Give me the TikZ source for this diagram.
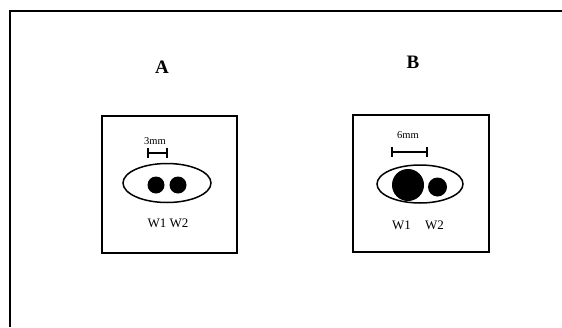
\documentclass[tikz,border=0pt]{standalone}
\usepackage{fontspec}
\setmainfont{Liberation Serif}
\begin{document}
\begin{tikzpicture}[x=1pt,y=-1pt,
  panel/.style={draw,line width=1.3pt},
  dish/.style={draw,line width=1.5pt},
  well/.style={fill=black},
  bar/.style={line width=1.3pt},
  lab/.style={font=\fontsize{19}{19}\selectfont\bfseries,inner sep=0pt},
  small/.style={font=\fontsize{10.5}{10.5}\selectfont,inner sep=0pt},
  wl/.style={font=\fontsize{13}{13}\selectfont,inner sep=0pt}]
\useasboundingbox (0,0) rectangle (562,327);
% outer frame (top and left only visible)
\draw[line width=2.2pt] (10,327) -- (10,11) -- (562,11);
% panel A
\node[lab] (la) at (162,67) {A};
\draw[panel] (102,116) rectangle (237,253);
\draw[dish] (167,183) ellipse [x radius=44, y radius=19.5];
\fill[well] (156,185) circle [radius=8.5];
\fill[well] (178,185) circle [radius=8.5];
\node[small] (sa) at (155,141) {3mm};
\draw[bar] (148,153) -- (167,153);
\draw[bar] (148,148) -- (148,158);
\draw[bar] (167,148) -- (167,158);
\node[wl] (wa) at (168,223) {W1 W2};
% panel B
\node[lab] (lb) at (413,62) {B};
\draw[panel] (353,115) rectangle (489,252);
\draw[dish] (420,184) ellipse [x radius=43, y radius=19];
\fill[well] (408,185) circle [radius=16];
\fill[well] (437.5,187) circle [radius=9.5];
\node[small] (sb) at (408,135) {6mm};
\draw[bar] (392,152) -- (427,152);
\draw[bar] (392,147) -- (392,157);
\draw[bar] (427,147) -- (427,157);
\node[wl] (wb) at (418,225) {W1\hspace{1.1em}W2};
\end{tikzpicture}
\end{document}
